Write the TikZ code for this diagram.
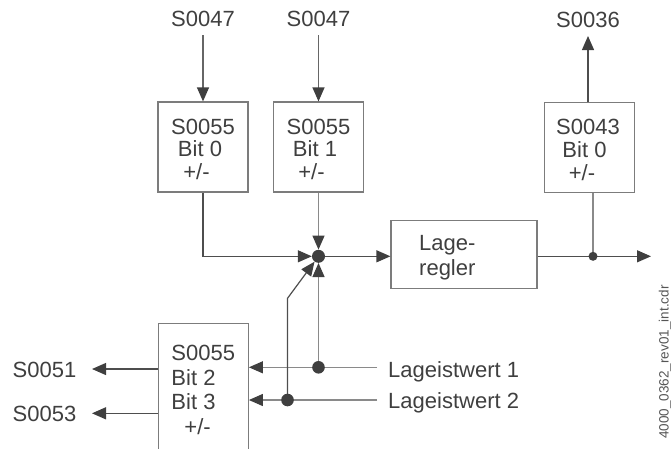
\documentclass[tikz,border=0pt]{standalone}
\usepackage{fontspec}
\setmainfont{Liberation Sans}
\usetikzlibrary{arrows.meta}
\definecolor{inkc}{HTML}{3F3F3F}
\definecolor{darkln}{HTML}{4E4E4E}
\definecolor{midln}{HTML}{666666}
\definecolor{lightln}{HTML}{8A8A8A}
\definecolor{boxln}{HTML}{7C7C7C}
\definecolor{fnc}{HTML}{555555}

\begin{document}
\begin{tikzpicture}[x=1pt,y=-1pt,
  txt/.style={font=\fontsize{22}{22.7}\selectfont, text=inkc, inner sep=0pt},
  blk/.style={draw=boxln, line width=1.2pt, minimum width=90pt, minimum height=90pt,
    inner sep=0pt, align=center, font=\fontsize{22}{22.7}\selectfont, text=inkc},
  tip/.style={-{Triangle[length=14pt,width=12pt,color=inkc]}},
  dk/.style={draw=darkln, line width=1.2pt},
  md/.style={draw=midln, line width=1.2pt},
  lt/.style={draw=lightln, line width=1.2pt},
  jpt/.style={circle, inner sep=0pt, minimum size=#1},
]
\useasboundingbox (0,0) rectangle (671,448);

% input labels and blocks
\node[txt, anchor=base] (s47a) at (203,26.7) {S0047};
\node[txt, anchor=base] (s47b) at (318.5,26.7) {S0047};
\node[txt, anchor=base] (s36) at (588,27.3) {S0036};

\node[blk] (b0) at (203,147) {\rule{0pt}{20pt}S0055\\\hspace*{-6pt}Bit 0\\\hspace*{-13pt}+/-};
\node[blk] (b1) at (318.5,147) {\rule{0pt}{20pt}S0055\\\hspace*{-7pt}Bit 1\\\hspace*{-14pt}+/-};
\node[blk] (b4) at (589.5,147.5) {\rule{0pt}{20pt}\hspace*{-3pt}S0043\\\hspace*{-10pt}Bit 0\\\hspace*{-15pt}+/-};
\node[blk, align=left, minimum height=133.4pt, font=\fontsize{22}{24.7}\selectfont]
  (b3) at (203.3,390) {S0055\\Bit 2\\Bit 3\\\hspace*{13pt}+/-};

% controller block
\node[draw=boxln, line width=1.2pt, minimum width=146pt, minimum height=67.6pt, inner sep=0pt]
  (lr) at (464,254.5) {};
\node[txt, align=left, anchor=west, font=\fontsize{22}{25}\selectfont] (lrt) at (419,258) {Lage-\\regler};

% junctions and free ends
\node[jpt=13pt] (j) at (318.5,256.3) {};
\coordinate (od) at (593,256.3);
\coordinate (oe) at (651,256.3);
\coordinate (d1) at (318.5,367.3);
\coordinate (d2) at (287.5,400);
\coordinate (bend) at (287.5,298.3);
\coordinate (t0) at (203,35);
\coordinate (t1) at (318.5,35);
\coordinate (t4) at (588,36);
\coordinate (l1s) at (377,367.3);
\coordinate (l2s) at (377,400);
\coordinate (o51) at (92,369);
\coordinate (o53) at (92,413.3);

% side labels
\node[txt, anchor=base west] (l1) at (388,377.3) {Lageistwert 1};
\node[txt, anchor=base west] (l2) at (388,408.3) {Lageistwert 2};
\node[txt, anchor=base east] (s51) at (76.5,377.3) {S0051};
\node[txt, anchor=base east] (s53) at (76.5,421.7) {S0053};

% connectors
\draw[md,tip] (t0) -- (b0.north);
\draw[md,tip] (t1) -- (b1.north);
\draw[dk,tip] (b0.south) |- (j);
\draw[lt,tip] (b1.south) -- (j);
\draw[dk,tip] (j) -- (lr.west |- j);
\draw[dk,tip] (lr.east |- j) -- (oe);
\draw[lt] (od) -- (od |- b4.south);
\draw[dk,tip] (t4 |- b4.north) -- (t4);
\draw[lt,tip] (l1s) -- (l1s -| b3.east);
\draw[lt,tip] (l2s) -- (l2s -| b3.east);
\draw[lt,tip] (d1) -- (j);
\draw[dk,tip] (d2) -- (bend) -- (j);
\draw[dk,tip] (o51 -| b3.west) -- (o51);
\draw[dk,tip] (o53 -| b3.west) -- (o53);

% junction dots
\fill[inkc] (j.center) circle (6.5pt);
\fill[inkc] (d1) circle (6.3pt);
\fill[inkc] (d2) circle (6.3pt);
\fill[inkc] (od) circle (4.5pt);

% file name along the right edge
\node[font=\fontsize{13.5}{14}\selectfont, text=fnc, rotate=90, anchor=base, inner sep=0pt]
  (fn) at (668.5,362) {4000\_0362\_rev01\_int.cdr};
\end{tikzpicture}
\end{document}
